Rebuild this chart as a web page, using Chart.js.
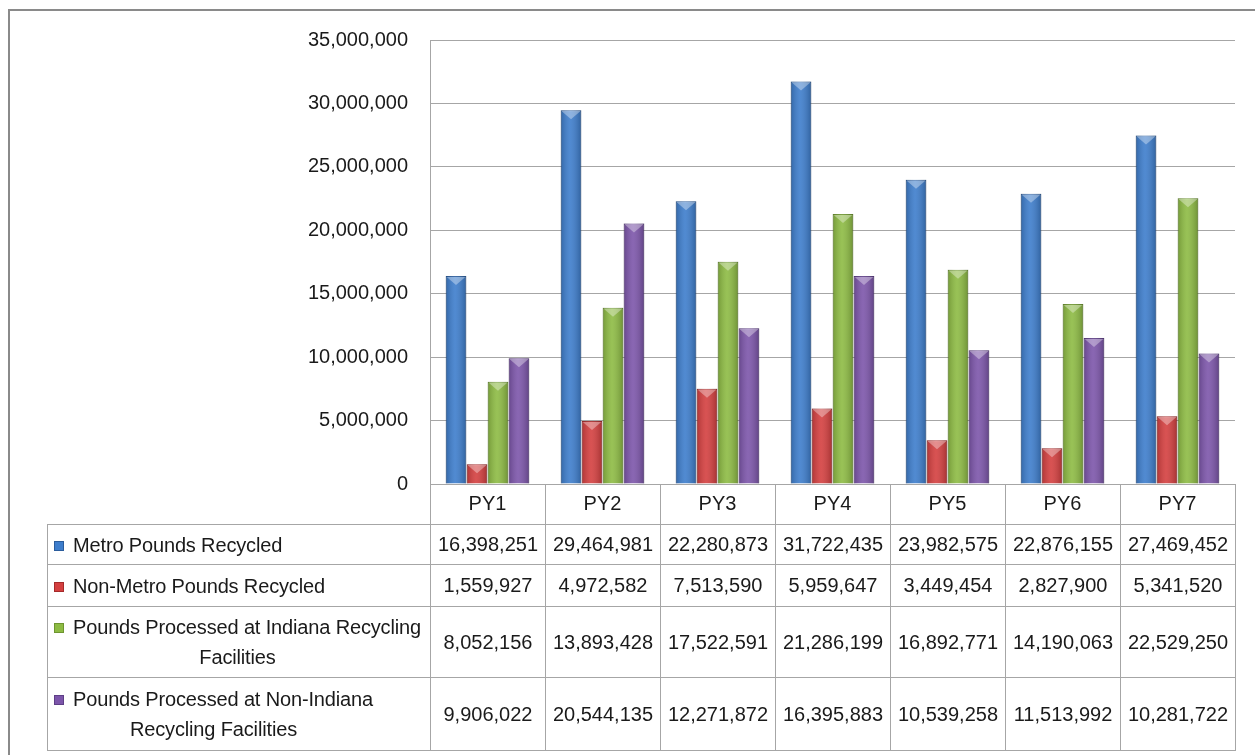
<!DOCTYPE html>
<html>
<head>
<meta charset="utf-8">
<script src="https://cdn.jsdelivr.net/npm/chart.js"></script>
<style>
  body { margin: 0; background: #fff; }
  #wrap { position: relative; width: 1255px; height: 755px; overflow: hidden; font-family: "Liberation Sans", Arial, sans-serif; color: #1a1a1a; }
  #frame { position: absolute; left: 8px; top: 9px; width: 1260px; height: 760px; border-top: 2px solid #8a8a8a; border-left: 2px solid #8a8a8a; }
  #chartCanvas { position: absolute; left: 0; top: 0; }
  #dataTable { position: absolute; left: 47px; top: 524px; border-collapse: collapse; font-size: 20px; table-layout: fixed; }
  #dataTable td { border: 1px solid #a6a6a6; text-align: center; padding: 0; white-space: nowrap; }
  #dataTable td.name { text-align: left; padding-left: 6px; letter-spacing: -0.15px; }
  .key { display: inline-block; width: 8px; height: 8px; margin-right: 9px; vertical-align: 1px; }
  .lines { display: inline-block; text-align: center; line-height: 30px; }
</style>
</head>
<body>
<div id="wrap">
  <div id="frame"></div>
  <canvas id="chartCanvas" width="1255" height="525"></canvas>
  <table id="dataTable"></table>
</div>
<script>
const categorias = ["PY1", "PY2", "PY3", "PY4", "PY5", "PY6", "PY7"];

const metro = [16398251, 29464981, 22280873, 31722435, 23982575, 22876155, 27469452];
const naoMetro = [1559927, 4972582, 7513590, 5959647, 3449454, 2827900, 5341520];
const indiana = [8052156, 13893428, 17522591, 21286199, 16892771, 14190063, 22529250];
const foraIndiana = [9906022, 20544135, 12271872, 16395883, 10539258, 11513992, 10281722];

const nomes = [
    ["Metro Pounds Recycled"],
    ["Non-Metro Pounds Recycled"],
    ["Pounds Processed at Indiana Recycling", "Facilities"],
    ["Pounds Processed at Non-Indiana", "Recycling Facilities"]
];

const yTicks = [0, 5000000, 10000000, 15000000, 20000000, 25000000, 30000000, 35000000];

const cores = ['#3D7DCC', '#D43F3F', '#8DBB43', '#7C55AA'];
const bordas = ['#2B5C9C', '#A52A2A', '#6E9530', '#5E3F86'];

const series = [metro, naoMetro, indiana, foraIndiana];

const fonte = { family: '"Liberation Sans", Arial, sans-serif', size: 20 };

function formata(v) {
    return Number(v).toLocaleString('en-US');
}

// brilho "3D" por cima das barras, no estilo do Excel
const bevelPlugin = {
    id: 'bevel',
    afterDatasetsDraw(chart) {
        const ctx = chart.ctx;
        chart.data.datasets.forEach((ds, i) => {
            chart.getDatasetMeta(i).data.forEach(bar => {
                const left = bar.x - bar.width / 2;
                const right = bar.x + bar.width / 2;
                const top = bar.y;
                const bottom = bar.base;
                let g = ctx.createLinearGradient(left, 0, right, 0);
                g.addColorStop(0, 'rgba(0,0,0,0.18)');
                g.addColorStop(0.45, 'rgba(255,255,255,0.10)');
                g.addColorStop(1, 'rgba(0,0,0,0.22)');
                ctx.save();
                ctx.fillStyle = g;
                ctx.fillRect(left, top, right - left, bottom - top);
                if (bottom - top > 8) {
                    ctx.beginPath();
                    ctx.moveTo(left + 1, top + 1);
                    ctx.lineTo(right - 1, top + 1);
                    ctx.lineTo(bar.x, top + Math.min(9, (bottom - top) / 2));
                    ctx.closePath();
                    ctx.fillStyle = 'rgba(255,255,255,0.35)';
                    ctx.fill();
                }
                ctx.restore();
            });
        });
    }
};

function construirGrafico() {
    const ctx = document.getElementById('chartCanvas').getContext('2d');

    new Chart(ctx, {
        type: 'bar',
        data: {
            labels: categorias,
            datasets: series.map((s, i) => ({
                label: nomes[i].join(' '),
                data: s,
                backgroundColor: cores[i],
                borderColor: bordas[i],
                borderWidth: 1,
                categoryPercentage: 0.73,
                barPercentage: 0.98
            }))
        },
        options: {
            responsive: false,
            animation: false,
            layout: { padding: { top: 40, right: 20, bottom: 1, left: 0 } },
            plugins: {
                legend: { display: false },
                tooltip: { enabled: false }
            },
            scales: {
                x: {
                    grid: { offset: true, drawOnChartArea: false, drawTicks: true, tickLength: 40, color: '#a6a6a6' },
                    border: { display: true, color: '#a6a6a6' },
                    ticks: { padding: -32, font: fonte, color: '#1a1a1a' },
                    afterFit: s => { s.height = 40; }
                },
                y: {
                    min: 0,
                    max: 35000000,
                    afterBuildTicks: s => { s.ticks = yTicks.map(v => ({ value: v })); },
                    grid: { color: '#a6a6a6', drawTicks: false },
                    border: { display: true, color: '#a6a6a6' },
                    ticks: { padding: 22, font: fonte, color: '#1a1a1a', callback: v => formata(v) },
                    afterFit: s => { s.width = 430; }
                }
            }
        },
        plugins: [bevelPlugin]
    });
}

function construirTabela() {
    const tabela = document.getElementById('dataTable');
    const alturas = [40, 42, 71, 73];
    let html = '<colgroup><col style="width:383px">';
    categorias.forEach(() => { html += '<col style="width:115px">'; });
    html += '</colgroup>';
    series.forEach((s, i) => {
        html += '<tr style="height:' + alturas[i] + 'px"><td class="name">';
        html += '<span class="lines"><span class="key" style="background:' + cores[i] + ';border:1px solid ' + bordas[i] + '"></span>';
        html += nomes[i].join('<br>') + '</span></td>';
        s.forEach(v => { html += '<td>' + formata(v) + '</td>'; });
        html += '</tr>';
    });
    tabela.innerHTML = html;
}

construirGrafico();
construirTabela();
</script>
</body>
</html>
